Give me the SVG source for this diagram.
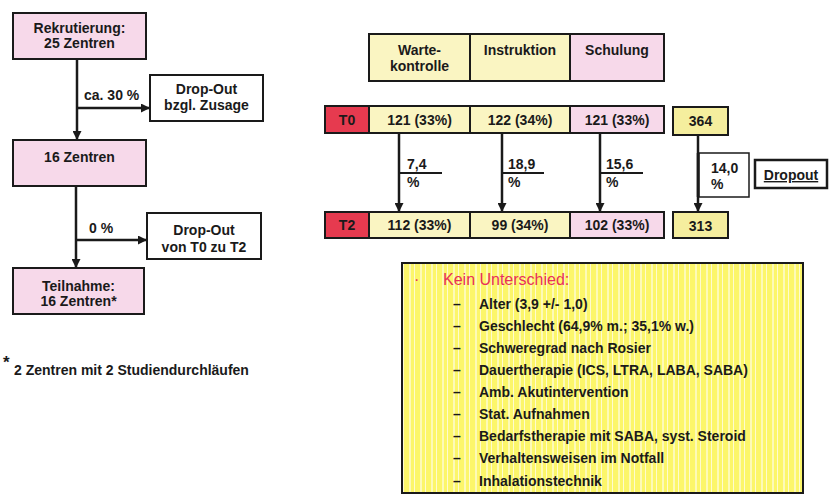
<svg xmlns="http://www.w3.org/2000/svg" width="829" height="495" viewBox="0 0 829 495">
<defs>
<style>
.t{font-family:"Liberation Sans",Arial,sans-serif;font-weight:bold;font-size:14px;fill:#1a1a1a}
.c{text-anchor:middle}
.box{stroke:#1a1a1a;stroke-width:2}
.pink{fill:#f7d9ea}
.yel{fill:#faf5c2}
.yel2{fill:#f5ee9e}
.wh{fill:#ffffff}
.red{fill:#e63a4f}
.ln{stroke:#1a1a1a;stroke-width:2.5;fill:none}
.thin{stroke:#1a1a1a;stroke-width:2;fill:none}
</style>
<marker id="ah" viewBox="0 0 10 10" refX="10" refY="5" markerWidth="10" markerHeight="9" markerUnits="userSpaceOnUse" orient="auto">
<path d="M0,0 L10,5 L0,10 z" fill="#1a1a1a"/>
</marker>
<pattern id="stripes" x="0" y="0" width="11" height="10" patternUnits="userSpaceOnUse">
<rect width="11" height="10" fill="#fcf66a"/>
<rect x="2" width="2" height="10" fill="#fdfab8"/>
<rect x="7" width="1" height="10" fill="#fefbd0"/>
</pattern>
</defs>
<rect width="829" height="495" fill="#ffffff"/>

<g id="connectors">
<line class="ln" x1="77" y1="59" x2="77" y2="140" marker-end="url(#ah)"/>
<line class="ln" x1="77" y1="108" x2="150" y2="108" marker-end="url(#ah)"/>
<line class="ln" x1="76" y1="186" x2="76" y2="268" marker-end="url(#ah)"/>
<line class="ln" x1="76" y1="240" x2="147" y2="240" marker-end="url(#ah)"/>
<line class="ln" x1="399" y1="133" x2="399" y2="212" marker-end="url(#ah)"/>
<line class="ln" x1="502" y1="133" x2="502" y2="212" marker-end="url(#ah)"/>
<line class="ln" x1="600" y1="133" x2="600" y2="212" marker-end="url(#ah)"/>
<line class="ln" x1="698" y1="136" x2="698" y2="212" marker-end="url(#ah)"/>
<line class="thin" x1="399" y1="173" x2="442" y2="173"/>
<line class="thin" x1="502" y1="173" x2="544" y2="173"/>
<line class="thin" x1="600" y1="173" x2="643" y2="173"/>
<text class="t" x="84" y="100">ca. 30 %</text>
<text class="t" x="89" y="233">0 %</text>
<text class="t" x="407" y="169">7,4</text>
<text class="t" x="407" y="187">%</text>
<text class="t" x="508" y="169">18,9</text>
<text class="t" x="508" y="187">%</text>
<text class="t" x="606" y="169">15,6</text>
<text class="t" x="606" y="187">%</text>
</g>

<g id="rekrutierung">
<rect class="box pink" x="13" y="13" width="133" height="46"/>
<text class="t c" x="79.5" y="33">Rekrutierung:</text>
<text class="t c" x="79.5" y="48">25 Zentren</text>
</g>
<g id="dropout-zusage">
<rect class="box wh" x="150" y="75" width="113" height="46"/>
<text class="t c" x="206.5" y="94">Drop-Out</text>
<text class="t c" x="206.5" y="110">bzgl. Zusage</text>
</g>
<g id="zentren16">
<rect class="box pink" x="13" y="140" width="133" height="46"/>
<text class="t c" x="79.5" y="162">16 Zentren</text>
</g>
<g id="dropout-t0t2">
<rect class="box wh" x="147" y="213" width="114" height="46"/>
<text class="t c" x="204" y="235">Drop-Out</text>
<text class="t c" x="204" y="252">von T0 zu T2</text>
</g>
<g id="teilnahme">
<rect class="box pink" x="13" y="268" width="131" height="46"/>
<text class="t c" x="78.5" y="291">Teilnahme:</text>
<text class="t c" x="78.5" y="306">16 Zentren*</text>
</g>
<g id="footnote">
<text class="t" x="3" y="368" style="font-size:17px">*</text>
<text class="t" x="14" y="375">2 Zentren mit 2 Studiendurchläufen</text>
</g>

<g id="header">
<rect class="box yel" x="369" y="34" width="101" height="47"/>
<rect class="box yel" x="470" y="34" width="100" height="47"/>
<rect class="box pink" x="570" y="34" width="94" height="47"/>
<text class="t c" x="419.5" y="55">Warte-</text>
<text class="t c" x="419.5" y="71">kontrolle</text>
<text class="t c" x="520" y="55">Instruktion</text>
<text class="t c" x="617" y="55">Schulung</text>
</g>

<g id="row-t0">
<rect class="box red" x="325" y="106" width="44" height="27"/>
<rect class="box yel" x="369" y="106" width="101" height="27"/>
<rect class="box yel" x="470" y="106" width="100" height="27"/>
<rect class="box pink" x="570" y="106" width="94" height="27"/>
<text class="t c" x="347" y="125">T0</text>
<text class="t c" x="419.5" y="125">121 (33%)</text>
<text class="t c" x="520" y="125">122 (34%)</text>
<text class="t c" x="617" y="125">121 (33%)</text>
</g>
<g id="total-t0">
<rect class="box yel2" x="673" y="107" width="55" height="28"/>
<text class="t c" x="700.5" y="126">364</text>
</g>

<g id="row-t2">
<rect class="box red" x="325" y="212" width="44" height="26"/>
<rect class="box yel" x="369" y="212" width="101" height="26"/>
<rect class="box yel" x="470" y="212" width="100" height="26"/>
<rect class="box pink" x="570" y="212" width="94" height="26"/>
<text class="t c" x="347" y="230">T2</text>
<text class="t c" x="419.5" y="230">112 (33%)</text>
<text class="t c" x="520" y="230">99 (34%)</text>
<text class="t c" x="617" y="230">102 (33%)</text>
</g>
<g id="total-t2">
<rect class="box yel2" x="673" y="212" width="55" height="26"/>
<text class="t c" x="700.5" y="231">313</text>
</g>

<g id="dropout-total">
<rect x="699" y="153" width="50" height="44" fill="#ffffff" stroke="#1a1a1a" stroke-width="1.5"/>
<line class="ln" x1="698" y1="153" x2="698" y2="197"/>
<text class="t" x="711" y="173">14,0</text>
<text class="t" x="711" y="189">%</text>
</g>
<g id="dropout-legend">
<rect x="755" y="160" width="72" height="28" fill="#ffffff" stroke="#1a1a1a" stroke-width="2.5"/>
<text class="t c" x="791" y="180" text-decoration="underline">Dropout</text>
</g>

<g id="summary">
<rect x="402" y="263" width="401" height="230" fill="url(#stripes)" stroke="#1a1a1a" stroke-width="2"/>
<text x="414" y="285" style="font-family:'Liberation Sans',Arial,sans-serif;font-size:16px;fill:#e8305a">·</text>
<text x="443" y="285" style="font-family:'Liberation Sans',Arial,sans-serif;font-size:16px;fill:#e8305a">Kein Unterschied:</text>
<g class="t">
<text class="t" x="453" y="309">–</text><text class="t" x="479" y="309">Alter (3,9 +/- 1,0)</text>
<text class="t" x="453" y="331">–</text><text class="t" x="479" y="331">Geschlecht (64,9% m.; 35,1% w.)</text>
<text class="t" x="453" y="353">–</text><text class="t" x="479" y="353">Schweregrad nach Rosier</text>
<text class="t" x="453" y="375">–</text><text class="t" x="479" y="375">Dauertherapie (ICS, LTRA, LABA, SABA)</text>
<text class="t" x="453" y="397">–</text><text class="t" x="479" y="397">Amb. Akutintervention</text>
<text class="t" x="453" y="419">–</text><text class="t" x="479" y="419">Stat. Aufnahmen</text>
<text class="t" x="453" y="441">–</text><text class="t" x="479" y="441">Bedarfstherapie mit SABA, syst. Steroid</text>
<text class="t" x="453" y="463">–</text><text class="t" x="479" y="463">Verhaltensweisen im Notfall</text>
<text class="t" x="453" y="486">–</text><text class="t" x="479" y="486">Inhalationstechnik</text>
</g>
</g>
</svg>
